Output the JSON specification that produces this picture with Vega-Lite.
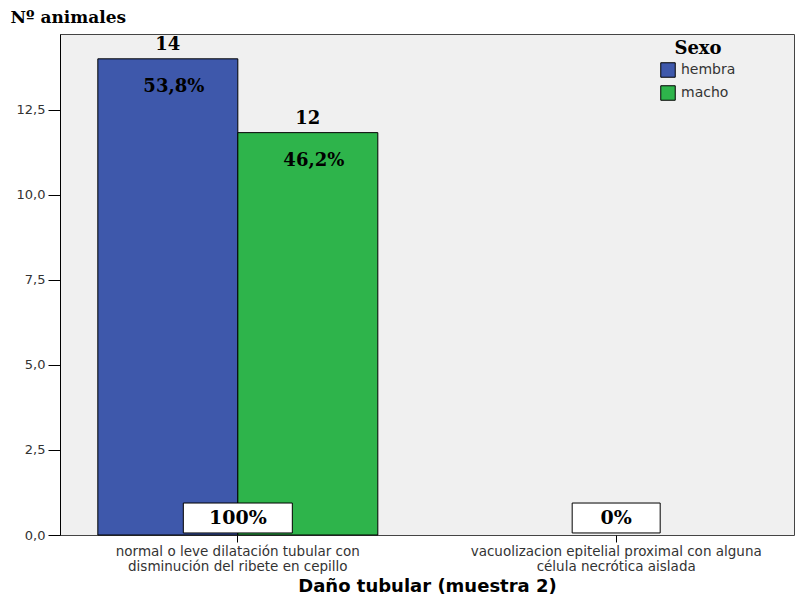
{
  "$schema": "https://vega.github.io/schema/vega-lite/v6.json",
  "width": 734,
  "height": 501,
  "autosize": {"type": "none"},
  "padding": {"left": 60, "top": 34, "right": 11, "bottom": 68},
  "background": "white",
  "config": {
    "view": {"fill": "#F0F0F0", "stroke": "#444444", "strokeWidth": 1},
    "axis": {"grid": false, "domainColor": "#000000", "tickColor": "#000000", "labelColor": "#333333", "labelFont": "DejaVu Sans", "labelFontSize": 13}
  },
  "datasets": {
    "bars": [
      {"dano": "normal o leve dilatación tubular con disminución del ribete en cepillo", "sexo": "hembra", "n": 14, "label": "14", "pct": "53,8%"},
      {"dano": "normal o leve dilatación tubular con disminución del ribete en cepillo", "sexo": "macho", "n": 11.83, "label": "12", "pct": "46,2%"},
      {"dano": "vacuolizacion epitelial proximal con alguna célula necrótica aislada", "sexo": "hembra", "n": 0, "label": "", "pct": ""},
      {"dano": "vacuolizacion epitelial proximal con alguna célula necrótica aislada", "sexo": "macho", "n": 0, "label": "", "pct": ""}
    ],
    "cats": [
      {"dano": "normal o leve dilatación tubular con disminución del ribete en cepillo", "total": "100%"},
      {"dano": "vacuolizacion epitelial proximal con alguna célula necrótica aislada", "total": "0%"}
    ]
  },
  "encoding": {
    "x": {
      "field": "dano", "type": "nominal",
      "sort": null,
      "scale": {"paddingInner": 0.26, "paddingOuter": 0.1},
      "axis": {
        "title": "Daño tubular (muestra 2)",
        "titleFont": "DejaVu Sans", "titleFontSize": 18, "titleFontWeight": "bold", "titleColor": "#000000", "titlePadding": 5,
        "labelAngle": 0, "labelFontSize": 13.5, "labelLineHeight": 15, "labelPadding": 2, "tickSize": 7, "labelLimit": 0,
        "domain": false,
        "labelExpr": "datum.value == 'normal o leve dilatación tubular con disminución del ribete en cepillo' ? ['normal o leve dilatación tubular con', 'disminución del ribete en cepillo'] : ['vacuolizacion epitelial proximal con alguna', 'célula necrótica aislada']"
      }
    }
  },
  "layer": [
    {
      "data": {"name": "bars"},
      "mark": {"type": "bar", "stroke": "#000000"},
      "encoding": {
        "xOffset": {"field": "sexo", "type": "nominal", "scale": {"paddingInner": 0, "paddingOuter": 0}},
        "y": {
          "field": "n", "type": "quantitative",
          "scale": {"domain": [0, 14.73], "nice": false, "zero": true},
          "axis": {
            "title": "Nº animales", "titleAngle": 0, "titleAlign": "left", "titleBaseline": "alphabetic",
            "titleX": -50, "titleY": -12, "titleFont": "DejaVu Serif", "titleFontSize": 17, "titleFontWeight": "bold", "titleColor": "#000000",
            "values": [0, 2.5, 5, 7.5, 10, 12.5],
            "labelExpr": "replace(format(datum.value, '.1f'), '.', ',')",
            "tickSize": 12, "labelPadding": 3
          }
        },
        "strokeWidth": {"condition": {"test": "datum.n > 0", "value": 1}, "value": 0},
        "color": {
          "field": "sexo", "type": "nominal",
          "scale": {"domain": ["hembra", "macho"], "range": ["#3E58AB", "#2EB44B"]},
          "legend": {
            "title": "Sexo", "orient": "none", "legendX": 600, "legendY": 6,
            "titleFont": "DejaVu Serif", "titleFontSize": 18, "titleFontWeight": "bold", "titleColor": "#000000", "titleAnchor": "middle", "titlePadding": 4,
            "labelFont": "DejaVu Sans", "labelFontSize": 14, "labelColor": "#333333", "labelOffset": 5,
            "symbolType": "square", "symbolSize": 210, "symbolStrokeColor": "#000000", "symbolStrokeWidth": 1, "symbolOpacity": 1,
            "rowPadding": 3
          }
        }
      }
    },
    {
      "data": {"name": "bars"},
      "transform": [{"filter": "datum.label != ''"}],
      "mark": {"type": "text", "font": "DejaVu Serif", "fontSize": 18, "fontWeight": "bold", "color": "#000000", "baseline": "middle", "dy": -14},
      "encoding": {
        "xOffset": {"field": "sexo", "type": "nominal"},
        "y": {"field": "n", "type": "quantitative"},
        "text": {"field": "label"}
      }
    },
    {
      "data": {"name": "bars"},
      "transform": [{"filter": "datum.pct != ''"}],
      "mark": {"type": "text", "font": "DejaVu Serif", "fontSize": 18, "fontWeight": "bold", "color": "#000000", "baseline": "middle", "dy": 28, "dx": 6},
      "encoding": {
        "xOffset": {"field": "sexo", "type": "nominal"},
        "y": {"field": "n", "type": "quantitative"},
        "text": {"field": "pct"}
      }
    },
    {
      "data": {"name": "cats"},
      "transform": [{"filter": "datum.total == '100%'"}],
      "mark": {"type": "bar", "width": 109, "fill": "#FFFFFF", "stroke": "#000000", "strokeWidth": 1},
      "encoding": {
        "y": {"datum": 0.06, "type": "quantitative"},
        "y2": {"datum": 0.94}
      }
    },
    {
      "data": {"name": "cats"},
      "transform": [{"filter": "datum.total == '0%'"}],
      "mark": {"type": "bar", "width": 88, "fill": "#FFFFFF", "stroke": "#000000", "strokeWidth": 1},
      "encoding": {
        "y": {"datum": 0.06, "type": "quantitative"},
        "y2": {"datum": 0.94}
      }
    },
    {
      "data": {"name": "cats"},
      "mark": {"type": "text", "font": "DejaVu Serif", "fontSize": 19, "fontWeight": "bold", "color": "#000000", "baseline": "middle"},
      "encoding": {
        "y": {"datum": 0.5, "type": "quantitative"},
        "text": {"field": "total"}
      }
    }
  ]
}
